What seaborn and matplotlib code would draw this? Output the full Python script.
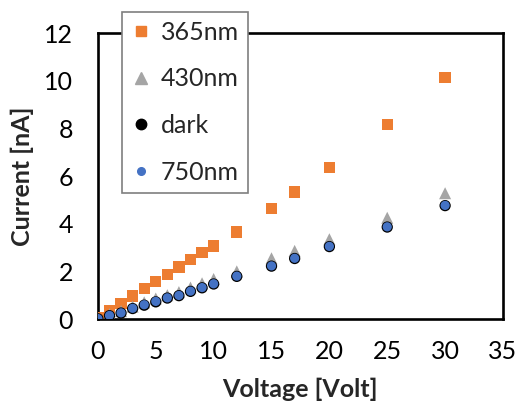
import matplotlib
matplotlib.use("Agg")
import matplotlib.pyplot as plt
from matplotlib.lines import Line2D
import seaborn as sns
import pandas as pd

# Measured current vs. bias voltage under different illumination
voltage = [0, 1, 2, 3, 4, 5, 6, 7, 8, 9, 10, 12, 15, 17, 20, 25, 30]
i_365nm = [0.05, 0.36, 0.64, 0.97, 1.27, 1.58, 1.86, 2.18, 2.49, 2.78, 3.06, 3.65, 4.64, 5.33, 6.36, 8.17, 10.15]
i_430nm = [0.04, 0.20, 0.33, 0.52, 0.70, 0.86, 1.00, 1.13, 1.32, 1.50, 1.68, 2.00, 2.55, 2.86, 3.35, 4.25, 5.28]
i_dark = [0.01, 0.14, 0.25, 0.44, 0.58, 0.72, 0.88, 0.98, 1.16, 1.31, 1.47, 1.79, 2.22, 2.54, 3.04, 3.86, 4.76]
i_750nm = [0.02, 0.15, 0.26, 0.45, 0.60, 0.74, 0.89, 0.99, 1.17, 1.32, 1.48, 1.80, 2.23, 2.55, 3.05, 3.87, 4.77]

x_ticks = [0, 5, 10, 15, 20, 25, 30, 35]
y_ticks = [0, 2, 4, 6, 8, 10, 12]

ORANGE = "#ED7D31"
GRAY = "#A5A5A5"
BLUE = "#4472C4"
FS = 18

sns.set_style("white")
plt.rcParams["font.family"] = ["Lato", "DejaVu Sans"]

df = pd.DataFrame({
    "V": voltage,
    "365nm": i_365nm,
    "430nm": i_430nm,
    "dark": i_dark,
    "750nm": i_750nm,
})

fig = plt.figure(figsize=(5.18, 4.09), dpi=100)
ax = fig.add_axes([0.189, 0.22, 0.782, 0.699])

sns.scatterplot(data=df, x="V", y="365nm", marker="s", s=66, color=ORANGE,
                edgecolor="none", ax=ax, zorder=3)
sns.scatterplot(data=df, x="V", y="430nm", marker="^", s=75, color=GRAY,
                edgecolor="none", ax=ax, zorder=4)
sns.scatterplot(data=df, x="V", y="dark", marker="o", s=66, color="black",
                edgecolor="none", ax=ax, zorder=5)
sns.scatterplot(data=df, x="V", y="750nm", marker="o", s=44, color=BLUE,
                edgecolor="none", ax=ax, zorder=6)

ax.set_xlim(0, 35)
ax.set_ylim(0, 12)
ax.set_xticks(x_ticks)
ax.set_yticks(y_ticks)
ax.tick_params(axis="both", direction="in", length=5.5, width=1.4,
               labelsize=FS, color="black", labelcolor="black")
ax.tick_params(axis="x", pad=15)
ax.tick_params(axis="y", pad=18)
for sp in ax.spines.values():
    sp.set_visible(True)
    sp.set_color("black")
    sp.set_linewidth(1.9)

ax.set_xlabel("Voltage [Volt]", fontsize=FS, fontweight="bold", labelpad=11)
ax.set_ylabel("Current [nA]", fontsize=FS, fontweight="bold", labelpad=7)

handles = [
    Line2D([], [], linestyle="none", marker="s", markersize=7.5, color=ORANGE),
    Line2D([], [], linestyle="none", marker="^", markersize=8.5, color=GRAY),
    Line2D([], [], linestyle="none", marker="o", markersize=7.5, color="black"),
    Line2D([], [], linestyle="none", marker="o", markersize=5.5, color=BLUE),
]
labels = ["365nm", "430nm", "dark", "750nm"]
leg = ax.legend(handles, labels, loc="upper left",
                bbox_to_anchor=(0.2355, 0.971), bbox_transform=fig.transFigure,
                borderaxespad=0, fontsize=FS, frameon=True, fancybox=False,
                framealpha=1, edgecolor="#7f7f7f", labelspacing=0.95,
                handlelength=0.8, handletextpad=0.4, borderpad=0.35)
leg.get_frame().set_linewidth(1.2)
leg.set_zorder(10)

fig.savefig("out.png", dpi=100, facecolor="white")
